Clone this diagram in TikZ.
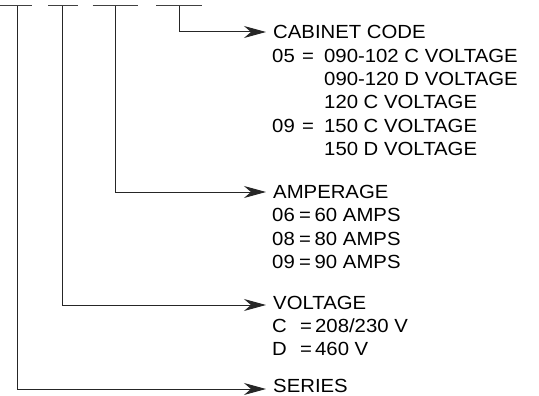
\documentclass[tikz,border=0pt]{standalone}
\usepackage{fontspec}
\usetikzlibrary{arrows.meta}
\newfontfamily\lbfont[FakeStretch=1.07]{Liberation Sans}
\begin{document}
\begin{tikzpicture}[x=1pt,y=-1pt,
  lbl/.style={font=\lbfont\fontsize{19}{21}\selectfont, anchor=west, inner sep=0pt, text height=13.6pt, text depth=0pt},
  barline/.style={line width=1pt, draw=black!75},
  conn/.style={line width=1pt, draw=black!85, -{Stealth[length=22pt,width=12pt,inset=7pt]}, shorten >=7pt}]
\useasboundingbox (0,0) rectangle (539,396);
% code bars
\coordinate (b1) at (17.3,6);
\coordinate (b2) at (62.7,6);
\coordinate (b3) at (115.5,6);
\coordinate (b4) at (179.3,6);
\draw[barline] (0,6) -- (31.7,6);
\draw[barline] (48.3,6) -- (77.7,6);
\draw[barline] (92.7,6) -- (137.7,6);
\draw[barline] (156,6) -- (201.7,6);
% labels
\node[lbl] (cab) at (273,32) {CABINET CODE};
\node[lbl] (cab1) at (272,55.3) {\makebox[30pt][l]{05}\makebox[22pt][l]{=}090-102 C VOLTAGE};
\node[lbl] (cab2) at (324,78.6) {090-120 D VOLTAGE};
\node[lbl] (cab3) at (324,102) {120 C VOLTAGE};
\node[lbl] (cab4) at (272,125.3) {\makebox[30pt][l]{09}\makebox[22pt][l]{=}150 C VOLTAGE};
\node[lbl] (cab5) at (324,148.6) {150 D VOLTAGE};
\node[lbl] (amp) at (273,192) {AMPERAGE};
\node[lbl] (amp1) at (272,215) {\makebox[27pt][l]{06}\makebox[15.5pt][l]{=}60 AMPS};
\node[lbl] (amp2) at (272,238.3) {\makebox[27pt][l]{08}\makebox[15.5pt][l]{=}80 AMPS};
\node[lbl] (amp3) at (272,261.7) {\makebox[27pt][l]{09}\makebox[15.5pt][l]{=}90 AMPS};
\node[lbl] (volt) at (273,303) {VOLTAGE};
\node[lbl] (volt1) at (272,325.5) {\makebox[28pt][l]{C}\makebox[15pt][l]{=}208/230 V};
\node[lbl] (volt2) at (272,348.8) {\makebox[28pt][l]{D}\makebox[15pt][l]{=}460 V};
\node[lbl] (ser) at (273,386) {SERIES};
% connectors
\draw[conn] (b4) |- (cab.west);
\draw[conn] (b3) |- (amp.west);
\draw[conn] (b2) |- ([yshift=-2pt]volt.west);
\draw[conn] (b1) |- ([yshift=-3pt]ser.west);
\end{tikzpicture}
\end{document}
